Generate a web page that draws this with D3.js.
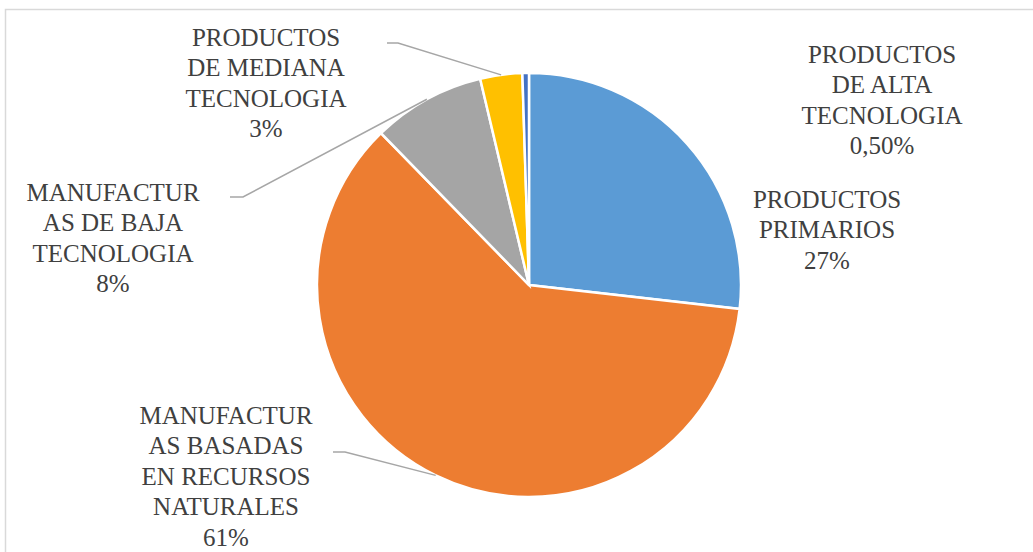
<!DOCTYPE html>
<html>
<head>
<meta charset="utf-8">
<script src="https://cdn.jsdelivr.net/npm/d3@7"></script>
<style>
  html, body { margin: 0; padding: 0; background: #fff; }
  svg { display: block; }
  .lbl { font-family: "Liberation Serif", "LiberationSerif", Tinos, "Noto Serif", "Times New Roman", Times, "FreeSerif", "Nimbus Roman", "Nimbus Roman No9 L", "DejaVu Serif", serif; }
</style>
</head>
<body>
<svg id="chart" width="1033" height="552"></svg>
<script>
// ---- data ----
const categories = [
  "PRODUCTOS PRIMARIOS",
  "MANUFACTURAS BASADAS EN RECURSOS NATURALES",
  "MANUFACTURAS DE BAJA TECNOLOGIA",
  "PRODUCTOS DE MEDIANA TECNOLOGIA",
  "PRODUCTOS DE ALTA TECNOLOGIA"
];
const values = [26.8, 60.9, 8.6, 3.2, 0.5];
const percentLabels = ["27%", "61%", "8%", "3%", "0,50%"];
const labelLines = [
  ["PRODUCTOS", "PRIMARIOS"],
  ["MANUFACTUR", "AS BASADAS", "EN RECURSOS", "NATURALES"],
  ["MANUFACTUR", "AS DE BAJA", "TECNOLOGIA"],
  ["PRODUCTOS", "DE MEDIANA", "TECNOLOGIA"],
  ["PRODUCTOS", "DE ALTA", "TECNOLOGIA"]
];
const colors = ["#5B9BD5", "#ED7D31", "#A5A5A5", "#FFC000", "#4472C4"];

// ---- layout ----
const cx = 529, cy = 285, R = 212;
const fontSize = 25, lineH = 30.4;
const labelPos = [
  {x: 827, y: 208},
  {x: 226, y: 424},
  {x: 113, y: 201},
  {x: 266, y: 46},
  {x: 882, y: 63}
];
const leaders = [
  null,
  {start: [333, 452], elbow: [345, 452]},
  {start: [230, 197], elbow: [243, 197]},
  {start: [387, 43], elbow: [398, 43]},
  null
];

const svg = d3.select("#chart");

svg.append("rect")
  .attr("x", 5.5).attr("y", 9.5)
  .attr("width", 1100).attr("height", 600)
  .attr("fill", "none")
  .attr("stroke", "#d9d9d9")
  .attr("stroke-width", 1.5);

const pie = d3.pie().sort(null).value(d => d).startAngle(0).endAngle(2 * Math.PI);
const arcs = pie(values);
const arc = d3.arc().innerRadius(0).outerRadius(R);

const g = svg.append("g").attr("transform", `translate(${cx},${cy})`);
g.selectAll("path.slice")
  .data(arcs)
  .join("path")
  .attr("class", "slice")
  .attr("d", arc)
  .attr("fill", (d, i) => colors[i])
  .attr("stroke", "#fff")
  .attr("stroke-width", 2.5)
  .attr("stroke-linejoin", "miter");

arcs.forEach((d, i) => {
  const L = leaders[i];
  if (!L) return;
  const mid = (d.startAngle + d.endAngle) / 2;
  const ex = cx + R * Math.sin(mid);
  const ey = cy - R * Math.cos(mid);
  svg.append("polyline")
    .attr("points", [L.start, L.elbow, [ex, ey]].map(p => p.join(",")).join(" "))
    .attr("fill", "none")
    .attr("stroke", "#a6a6a6")
    .attr("stroke-width", 1.5);
});

arcs.forEach((d, i) => {
  const p = labelPos[i];
  const lines = labelLines[i].concat([percentLabels[i]]);
  const t = svg.append("text")
    .attr("class", "lbl")
    .attr("x", p.x).attr("y", p.y)
    .attr("text-anchor", "middle")
    .attr("font-size", fontSize)
    .attr("fill", "#404040");
  lines.forEach((ln, k) => {
    t.append("tspan").attr("x", p.x).attr("y", p.y + k * lineH).text(ln);
  });
});
</script>
</body>
</html>
